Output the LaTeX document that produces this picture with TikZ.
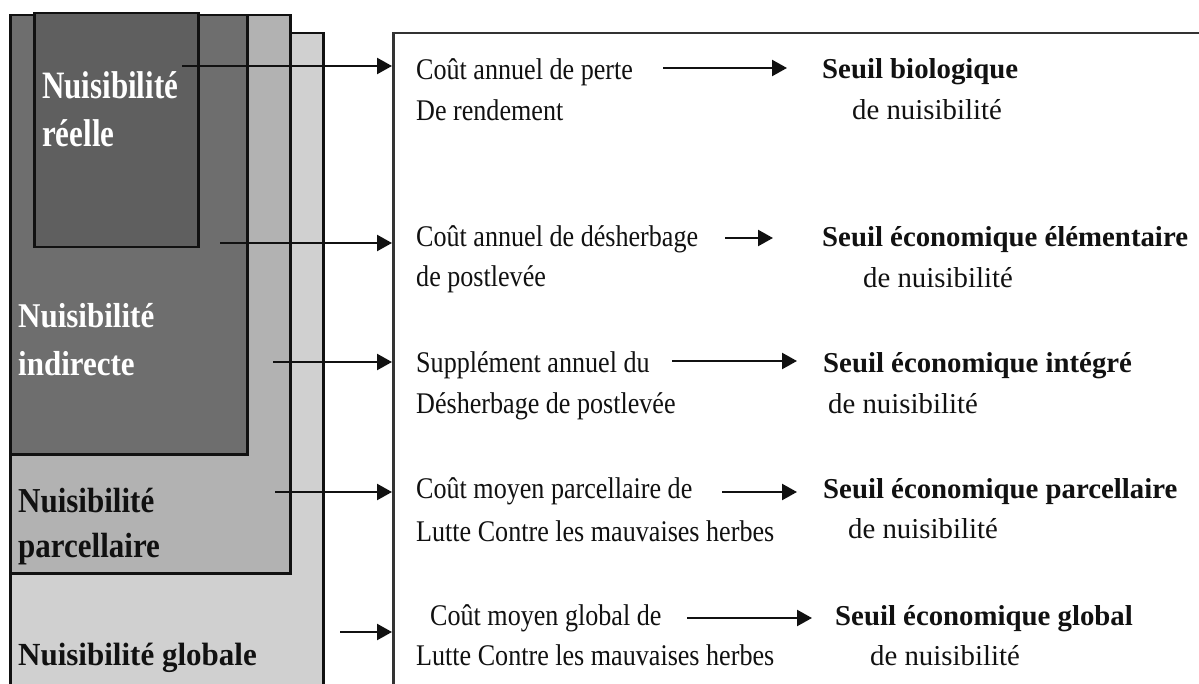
\documentclass[tikz,border=0pt]{standalone}
\usepackage{fontspec}
\usepackage{graphicx}
\setmainfont{Liberation Serif}
\usetikzlibrary{arrows.meta}
\definecolor{gGlob}{RGB}{208,208,208}
\definecolor{gParc}{RGB}{178,178,178}
\definecolor{gInd}{RGB}{110,110,110}
\definecolor{gReel}{RGB}{95,95,95}
\definecolor{ink}{RGB}{17,17,17}
\newcommand\colA[1]{\scalebox{0.87}[1]{#1}}
\newcommand\labY[2]{\scalebox{1}[#1]{#2}}
\tikzset{
  layer/.style={draw=ink, line width=2.5pt, anchor=north west, inner sep=0pt},
  arr/.style={draw=ink, line width=2.3pt, -{Triangle[length=15pt,width=16pt]}},
  costtxt/.style={anchor=base west, inner sep=0pt, text=ink, font=\fontsize{30}{36}\selectfont},
  seuiltxt/.style={anchor=base west, inner sep=0pt, text=ink, font=\fontsize{28.8}{34}\selectfont\bfseries},
  nuistxt/.style={anchor=base west, inner sep=0pt, text=ink, font=\fontsize{28.8}{34}\selectfont},
  lab/.style={anchor=base west, inner sep=0pt, font=\fontsize{31}{36}\selectfont\bfseries},
}
\begin{document}
\begin{tikzpicture}[x=1pt,y=-1pt]
\useasboundingbox (0,0) rectangle (1199,684);
\clip (0,0) rectangle (1199,684);
\fill[white] (0,0) rectangle (1199,684);
% nested layers
\node[layer, fill=gGlob, minimum width=313pt, minimum height=700pt] (glob) at (9,32) {};
\node[layer, fill=gParc, minimum width=280pt, minimum height=558pt] (parc) at (9,14) {};
\node[layer, fill=gInd, minimum width=237pt, minimum height=439pt] (ind) at (9,14) {};
\node[layer, fill=gReel, minimum width=164pt, minimum height=234pt] (reel) at (33,12) {};
% right panel
\node[layer, draw=black!80, fill=white, minimum width=900pt, minimum height=700pt] (panel) at (392,32) {};
% left labels
\node[lab, text=white] (lr1) at (42,99) {\labY{1.25}{Nuisibilité}};
\node[lab, text=white] (lr2) at (42,147) {\labY{1.25}{réelle}};
\node[lab, text=white] (li1) at (18,328) {\labY{1.12}{Nuisibilité}};
\node[lab, text=white] (li2) at (18,375) {\labY{1.12}{indirecte}};
\node[lab, text=ink] (lp1) at (18,512) {\labY{1.13}{Nuisibilité}};
\node[lab, text=ink] (lp2) at (18,557) {\labY{1.13}{parcellaire}};
\node[lab, text=ink] (lg1) at (18,665) {\labY{1.04}{Nuisibilité globale}};
% left arrows into panel
\coordinate (s1) at (182,66);
\coordinate (s2) at (220,243);
\coordinate (s3) at (273,362);
\coordinate (s4) at (275,492);
\coordinate (s5) at (340,632);
\foreach \i in {1,...,5}{\draw[arr] (s\i) -- (s\i -| panel.west);}
% cost texts
\node[costtxt] (c1a) at (416,80) {\colA{Coût annuel de perte}};
\node[costtxt] (c1b) at (416,121) {\colA{De rendement}};
\node[costtxt] (c2a) at (416,247) {\colA{Coût annuel de désherbage}};
\node[costtxt] (c2b) at (416,287) {\colA{de postlevée}};
\node[costtxt] (c3a) at (416,373) {\colA{Supplément annuel du}};
\node[costtxt] (c3b) at (416,413) {\colA{Désherbage de postlevée}};
\node[costtxt] (c4a) at (416,498) {\colA{Coût moyen parcellaire de}};
\node[costtxt] (c4b) at (416,541) {\colA{Lutte Contre les mauvaises herbes}};
\node[costtxt] (c5a) at (430,625) {\colA{Coût moyen global de}};
\node[costtxt] (c5b) at (416,665) {\colA{Lutte Contre les mauvaises herbes}};
% thresholds
\node[seuiltxt] (t1a) at (822,79) {Seuil biologique};
\node[nuistxt] (t1b) at (852,120) {de nuisibilité};
\node[seuiltxt] (t2a) at (822,247) {Seuil économique élémentaire};
\node[nuistxt] (t2b) at (863,288) {de nuisibilité};
\node[seuiltxt] (t3a) at (823,373) {Seuil économique intégré};
\node[nuistxt] (t3b) at (828,413) {de nuisibilité};
\node[seuiltxt] (t4a) at (823,498) {Seuil économique parcellaire};
\node[nuistxt] (t4b) at (848,538) {de nuisibilité};
\node[seuiltxt] (t5a) at (835,625) {Seuil économique global};
\node[nuistxt] (t5b) at (870,665) {de nuisibilité};
% cost -> threshold arrows
\coordinate (r1s) at (663,68);  \coordinate (r1e) at (787,68);
\coordinate (r2s) at (725,238); \coordinate (r2e) at (773,238);
\coordinate (r3s) at (672,361); \coordinate (r3e) at (797,361);
\coordinate (r4s) at (722,492); \coordinate (r4e) at (797,492);
\coordinate (r5s) at (687,618); \coordinate (r5e) at (812,618);
\foreach \i in {1,...,5}{\draw[arr] (r\i s) -- (r\i e);}
\end{tikzpicture}
\end{document}
